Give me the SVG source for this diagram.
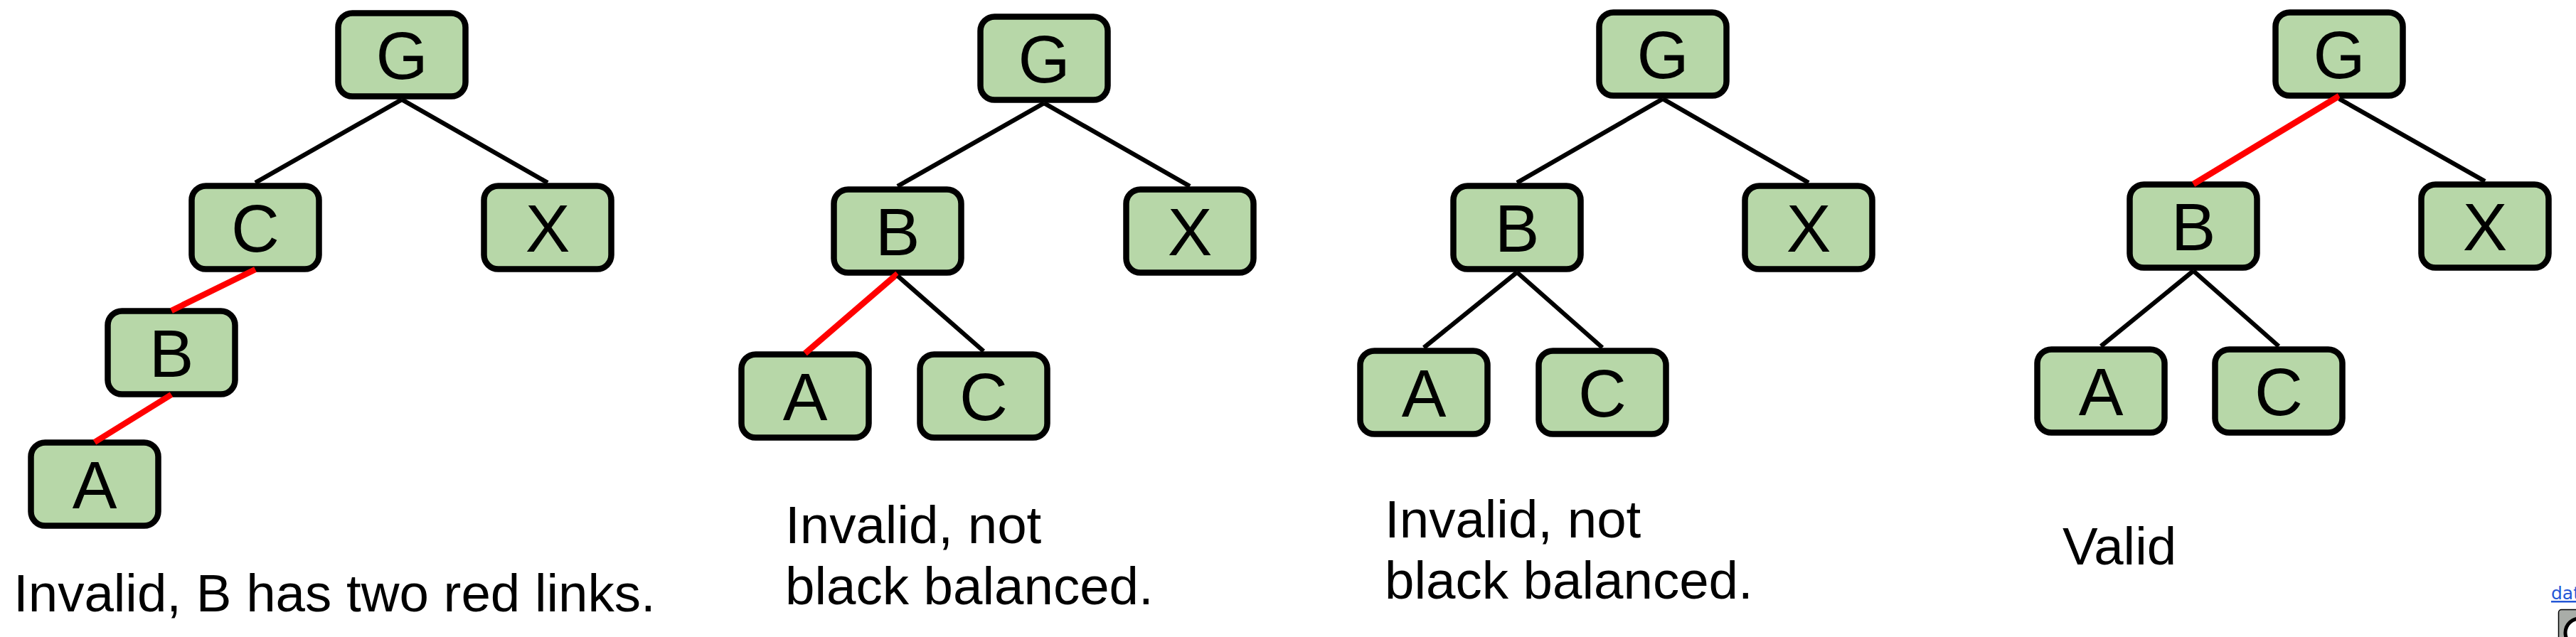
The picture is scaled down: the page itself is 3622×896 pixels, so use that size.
<svg xmlns="http://www.w3.org/2000/svg" width="3622" height="896" viewBox="0 0 3622 896">
<style>
.box{fill:#b7d7a8;stroke:#000;stroke-width:8.5}
.lbl{font-family:"Liberation Sans",Arial,sans-serif;font-size:94px;fill:#000;text-anchor:middle}
.cap{font-family:"Liberation Sans",Arial,sans-serif;font-size:74.5px;fill:#000}
.blk{stroke:#000;stroke-width:6.3;fill:none}
.red{stroke:#ff0000;stroke-width:8.5;fill:none}
.link{font-family:"DejaVu Sans",sans-serif;font-size:25px;fill:#2457d6;text-decoration:underline}
</style>
<rect width="3622" height="896" fill="#fff"/>
<defs>
<rect id="nb" x="4.5" y="4.5" width="179" height="117" rx="20" class="box"/>
</defs>

<g id="p1">
<g id="p1-G"><use href="#nb" x="471" y="14"/><text class="lbl" x="565" y="111">G</text></g>
<g id="p1-C"><use href="#nb" x="265" y="257"/><text class="lbl" x="359" y="354">C</text></g>
<g id="p1-X"><use href="#nb" x="676" y="257"/><text class="lbl" x="770" y="354">X</text></g>
<g id="p1-B"><use href="#nb" x="147" y="433"/><text class="lbl" x="241" y="530">B</text></g>
<g id="p1-A"><use href="#nb" x="39" y="618"/><text class="lbl" x="133" y="715">A</text></g>
</g>

<g id="p2">
<g id="p2-G"><use href="#nb" x="1374" y="19"/><text class="lbl" x="1468" y="116">G</text></g>
<g id="p2-B"><use href="#nb" x="1168" y="262"/><text class="lbl" x="1262" y="359">B</text></g>
<g id="p2-X"><use href="#nb" x="1579" y="262"/><text class="lbl" x="1673" y="359">X</text></g>
<g id="p2-A"><use href="#nb" x="1038" y="494"/><text class="lbl" x="1132" y="591">A</text></g>
<g id="p2-C"><use href="#nb" x="1289" y="494"/><text class="lbl" x="1383" y="591">C</text></g>
</g>

<g id="p3">
<g id="p3-G"><use href="#nb" x="2244" y="13"/><text class="lbl" x="2338" y="110">G</text></g>
<g id="p3-B"><use href="#nb" x="2039" y="257"/><text class="lbl" x="2133" y="354">B</text></g>
<g id="p3-X"><use href="#nb" x="2449" y="257"/><text class="lbl" x="2543" y="354">X</text></g>
<g id="p3-A"><use href="#nb" x="1908" y="489"/><text class="lbl" x="2002" y="586">A</text></g>
<g id="p3-C"><use href="#nb" x="2159" y="489"/><text class="lbl" x="2253" y="586">C</text></g>
</g>

<g id="p4">
<g id="p4-G"><use href="#nb" x="3195" y="13"/><text class="lbl" x="3289" y="110">G</text></g>
<g id="p4-B"><use href="#nb" x="2990" y="255"/><text class="lbl" x="3084" y="352">B</text></g>
<g id="p4-X"><use href="#nb" x="3400" y="255"/><text class="lbl" x="3494" y="352">X</text></g>
<g id="p4-A"><use href="#nb" x="2860" y="487"/><text class="lbl" x="2954" y="584">A</text></g>
<g id="p4-C"><use href="#nb" x="3110" y="487"/><text class="lbl" x="3204" y="584">C</text></g>
</g>

<g id="connectors">
<line class="blk" x1="565" y1="140" x2="359" y2="257"/>
<line class="blk" x1="565" y1="140" x2="770" y2="257"/>
<line class="red" x1="359" y1="379" x2="241" y2="437"/>
<line class="red" x1="241" y1="555" x2="133" y2="622"/>

<line class="blk" x1="1468" y1="145" x2="1262" y2="262"/>
<line class="blk" x1="1468" y1="145" x2="1673" y2="262"/>
<line class="red" x1="1262" y1="385" x2="1132" y2="497"/>
<line class="blk" x1="1262" y1="388" x2="1383" y2="494"/>

<line class="blk" x1="2338" y1="139" x2="2133" y2="257"/>
<line class="blk" x1="2338" y1="139" x2="2543" y2="257"/>
<line class="blk" x1="2133" y1="383" x2="2002" y2="489"/>
<line class="blk" x1="2133" y1="383" x2="2253" y2="489"/>

<line class="red" x1="3289" y1="135" x2="3084" y2="259"/>
<line class="blk" x1="3289" y1="139" x2="3494" y2="255"/>
<line class="blk" x1="3084" y1="381" x2="2954" y2="487"/>
<line class="blk" x1="3084" y1="381" x2="3204" y2="487"/>
</g>

<g id="captions">
<text class="cap" x="19" y="860">Invalid, B has two red links.</text>
<text class="cap" x="1104" y="764">Invalid, not</text>
<text class="cap" x="1104" y="850">black balanced.</text>
<text class="cap" x="1947" y="756">Invalid, not</text>
<text class="cap" x="1947" y="842">black balanced.</text>
<text class="cap" x="2900" y="794">Valid</text>
</g>

<g id="credit">
<text class="link" x="3587" y="843">dat</text>
<rect x="3597.5" y="857.5" width="60" height="50" rx="4" fill="#a9ada8" stroke="#000" stroke-width="1.5"/>
<circle cx="3627" cy="890" r="20" fill="#fff" stroke="#000" stroke-width="5"/>
</g>
</svg>
